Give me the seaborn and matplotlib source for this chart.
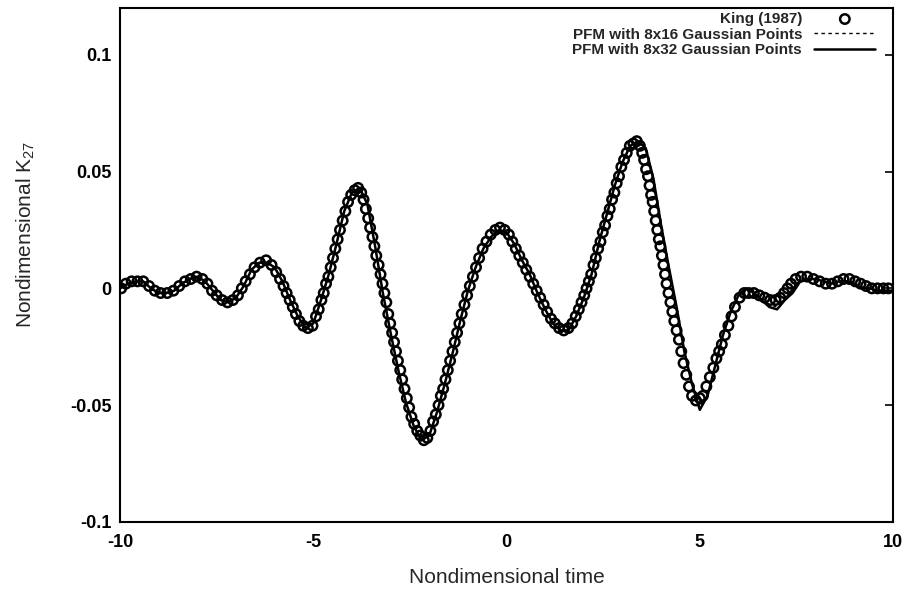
import numpy as np
import pandas as pd
import matplotlib
matplotlib.use("Agg")
import matplotlib.pyplot as plt
import seaborn as sns

# PFM solutions sampled every 0.2 time units
pfm_time = np.linspace(-10.0, 10.0, 101)
k27_8x32 = [
    0.000, 0.002, 0.003, 0.003, 0.000, -0.002, -0.002, -0.001, 0.002, 0.004,
    0.005, 0.003, -0.001, -0.005, -0.006, -0.004, 0.001, 0.008, 0.011, 0.011,
    0.009, 0.003, -0.005, -0.012, -0.017, -0.015, -0.005, 0.006, 0.019, 0.033,
    0.041, 0.043, 0.036, 0.018, -0.002, -0.019, -0.035, -0.049, -0.059, -0.065,
    -0.063, -0.053, -0.041, -0.028, -0.014, -0.001, 0.009, 0.017, 0.022, 0.025,
    0.024, 0.019, 0.012, 0.006, -0.002, -0.009, -0.015, -0.018, -0.018, -0.012,
    -0.004, 0.006, 0.020, 0.032, 0.044, 0.054, 0.061, 0.063, 0.060, 0.047,
    0.027, 0.009, -0.008, -0.027, -0.041, -0.052, -0.046, -0.033, -0.020, -0.010,
    -0.003, 0.000, -0.002, -0.005, -0.008, -0.009, -0.005, -0.002, 0.003, 0.004,
    0.004, 0.003, 0.002, 0.003, 0.003, 0.002, 0.000, 0.000, -0.001, -0.001,
    -0.001,
]
k27_8x16 = [
    0.000, 0.002, 0.003, 0.003, 0.000, -0.002, -0.002, -0.001, 0.002, 0.004,
    0.005, 0.003, -0.001, -0.005, -0.006, -0.004, 0.001, 0.008, 0.011, 0.011,
    0.009, 0.003, -0.005, -0.012, -0.017, -0.015, -0.005, 0.006, 0.019, 0.033,
    0.041, 0.043, 0.036, 0.018, -0.002, -0.019, -0.035, -0.049, -0.059, -0.065,
    -0.063, -0.053, -0.041, -0.028, -0.014, -0.001, 0.009, 0.017, 0.022, 0.025,
    0.024, 0.019, 0.012, 0.006, -0.002, -0.009, -0.015, -0.018, -0.018, -0.012,
    -0.004, 0.006, 0.020, 0.032, 0.044, 0.054, 0.061, 0.063, 0.060, 0.047,
    0.027, 0.009, -0.008, -0.027, -0.041, -0.051, -0.046, -0.033, -0.020, -0.010,
    -0.003, 0.000, -0.002, -0.004, -0.007, -0.008, -0.005, -0.001, 0.003, 0.004,
    0.004, 0.003, 0.002, 0.003, 0.003, 0.002, 0.000, 0.000, -0.001, -0.001,
    -0.001,
]

# King (1987) reference points
king_time = [
    -9.97, -9.85, -9.70, -9.55, -9.40, -9.25, -9.10, -8.95, -8.78, -8.62,
    -8.47, -8.32, -8.17, -8.02, -7.87, -7.74, -7.62, -7.50, -7.36, -7.22,
    -7.08, -6.95, -6.85, -6.75, -6.64, -6.52, -6.38, -6.22, -6.08, -5.96,
    -5.86, -5.77, -5.69, -5.61, -5.53, -5.45, -5.36, -5.26, -5.14, -5.02,
    -4.93, -4.86, -4.79, -4.73, -4.67, -4.61, -4.55, -4.49, -4.43, -4.37,
    -4.31, -4.24, -4.17, -4.10, -4.02, -3.93, -3.84, -3.76, -3.70, -3.64,
    -3.58, -3.53, -3.47, -3.42, -3.37, -3.31, -3.26, -3.21, -3.16, -3.11,
    -3.06, -3.01, -2.96, -2.91, -2.86, -2.81, -2.75, -2.70, -2.64, -2.58,
    -2.52, -2.46, -2.39, -2.31, -2.23, -2.14, -2.05, -1.97, -1.90, -1.83,
    -1.76, -1.70, -1.64, -1.58, -1.52, -1.46, -1.40, -1.34, -1.28, -1.22,
    -1.16, -1.09, -1.02, -0.95, -0.87, -0.79, -0.71, -0.62, -0.52, -0.41,
    -0.29, -0.17, -0.05, 0.06, 0.15, 0.24, 0.33, 0.42, 0.51, 0.60,
    0.69, 0.78, 0.87, 0.96, 1.05, 1.15, 1.25, 1.36, 1.48, 1.60,
    1.70, 1.79, 1.87, 1.94, 2.01, 2.07, 2.13, 2.19, 2.25, 2.31,
    2.37, 2.43, 2.49, 2.55, 2.61, 2.67, 2.73, 2.79, 2.85, 2.91,
    2.97, 3.04, 3.11, 3.19, 3.28, 3.37, 3.45, 3.51, 3.56, 3.61,
    3.66, 3.70, 3.74, 3.78, 3.82, 3.86, 3.90, 3.94, 3.98, 4.02,
    4.06, 4.10, 4.14, 4.19, 4.24, 4.29, 4.34, 4.40, 4.46, 4.52,
    4.58, 4.65, 4.72, 4.80, 4.90, 5.00, 5.08, 5.17, 5.26, 5.35,
    5.43, 5.50, 5.57, 5.65, 5.74, 5.82, 5.91, 6.03, 6.15, 6.27,
    6.40, 6.54, 6.68, 6.82, 6.96, 7.08, 7.18, 7.27, 7.36, 7.48,
    7.62, 7.78, 7.94, 8.10, 8.26, 8.42, 8.57, 8.72, 8.87, 9.02,
    9.16, 9.30, 9.45, 9.60, 9.75, 9.88,
]
king_k27 = [
    0.000, 0.002, 0.003, 0.003, 0.003, 0.001, -0.001, -0.002, -0.002, -0.001,
    0.001, 0.003, 0.004, 0.005, 0.004, 0.002, -0.001, -0.003, -0.005, -0.006,
    -0.005, -0.003, 0.000, 0.003, 0.006, 0.009, 0.011, 0.012, 0.010, 0.007,
    0.004, 0.001, -0.002, -0.005, -0.008, -0.011, -0.014, -0.016, -0.017, -0.016,
    -0.012, -0.009, -0.005, -0.002, 0.002, 0.005, 0.009, 0.013, 0.017, 0.021,
    0.025, 0.029, 0.033, 0.037, 0.040, 0.042, 0.043, 0.041, 0.038, 0.034,
    0.030, 0.026, 0.022, 0.018, 0.014, 0.010, 0.006, 0.002, -0.002, -0.006,
    -0.011, -0.015, -0.019, -0.023, -0.027, -0.031, -0.035, -0.039, -0.043, -0.047,
    -0.051, -0.055, -0.058, -0.061, -0.063, -0.065, -0.064, -0.061, -0.057, -0.054,
    -0.050, -0.046, -0.043, -0.039, -0.035, -0.031, -0.027, -0.023, -0.019, -0.015,
    -0.011, -0.007, -0.003, 0.001, 0.005, 0.009, 0.013, 0.017, 0.020, 0.023,
    0.025, 0.026, 0.025, 0.023, 0.020, 0.017, 0.014, 0.011, 0.008, 0.005,
    0.002, -0.001, -0.004, -0.007, -0.010, -0.013, -0.015, -0.017, -0.018, -0.017,
    -0.015, -0.012, -0.009, -0.006, -0.003, 0.000, 0.003, 0.006, 0.010, 0.013,
    0.017, 0.020, 0.024, 0.027, 0.031, 0.034, 0.038, 0.041, 0.045, 0.048,
    0.052, 0.055, 0.058, 0.061, 0.062, 0.063, 0.061, 0.058, 0.055, 0.051,
    0.048, 0.044, 0.040, 0.037, 0.033, 0.029, 0.025, 0.021, 0.018, 0.014,
    0.010, 0.006, 0.002, -0.002, -0.006, -0.010, -0.014, -0.018, -0.022, -0.027,
    -0.032, -0.037, -0.042, -0.046, -0.048, -0.047, -0.046, -0.042, -0.038, -0.034,
    -0.030, -0.027, -0.024, -0.020, -0.016, -0.012, -0.008, -0.004, -0.002, -0.002,
    -0.002, -0.003, -0.004, -0.005, -0.005, -0.004, -0.002, 0.000, 0.002, 0.004,
    0.005, 0.005, 0.004, 0.003, 0.002, 0.002, 0.003, 0.004, 0.004, 0.003,
    0.002, 0.001, 0.000, 0.000, 0.000, 0.000,
]

x_ticks = [-10, -5, 0, 5, 10]
y_ticks = [-0.1, -0.05, 0, 0.05, 0.1]
x_tick_labels = ["-10", "-5", "0", "5", "10"]
y_tick_labels = ["-0.1", "-0.05", "0", "0.05", "0.1"]

pfm = pd.DataFrame({"t": pfm_time, "k16": k27_8x16, "k32": k27_8x32})
king = pd.DataFrame({"t": king_time, "k": king_k27})

sns.set_style("white")
plt.rcParams["font.family"] = ["Liberation Sans", "DejaVu Sans"]
plt.rcParams["mathtext.fontset"] = "custom"
plt.rcParams["mathtext.rm"] = "Liberation Sans"
plt.rcParams["mathtext.it"] = "Liberation Sans"

fig = plt.figure(figsize=(9.06, 5.89), dpi=100)
ax = fig.add_axes([0.1325, 0.1138, 0.8532, 0.8726])

sns.scatterplot(data=king, x="t", y="k", ax=ax, marker="o", s=46,
                facecolor="none", edgecolor="black", linewidth=1.8,
                label="King (1987)", zorder=3)
sns.lineplot(data=pfm, x="t", y="k16", ax=ax, color="black", linewidth=1.0,
             linestyle=(0, (2.5, 2.5)), label="PFM with 8x16 Gaussian Points",
             zorder=2)
sns.lineplot(data=pfm, x="t", y="k32", ax=ax, color="black", linewidth=1.8,
             label="PFM with 8x32 Gaussian Points", zorder=2)

ax.set_xlim(-10, 10)
ax.set_ylim(-0.1, 0.12)
ax.set_xticks(x_ticks)
ax.set_xticklabels(x_tick_labels)
ax.set_yticks(y_ticks)
ax.set_yticklabels(y_tick_labels)
ax.tick_params(direction="in", length=6, width=1.2, top=False, right=True,
               labelsize=13, colors="black")
ax.tick_params(axis="x", pad=9)
ax.tick_params(axis="y", pad=6)
for lbl in ax.get_xticklabels() + ax.get_yticklabels():
    lbl.set_fontweight("bold")
for sp in ax.spines.values():
    sp.set_visible(True)
    sp.set_color("black")
    sp.set_linewidth(1.5)

ax.set_xlabel("Nondimensional time", fontsize=15, labelpad=12)
ax.set_ylabel(r"Nondimensional K$_{27}$", fontsize=15)
ax.yaxis.set_label_coords(-0.107, 0.56)

leg = ax.legend(loc="upper right", bbox_to_anchor=(0.991, 1.013),
                frameon=False, markerfirst=False, handlelength=4.0,
                labelspacing=0.1, borderaxespad=0.3, handletextpad=0.8,
                prop={"weight": "bold", "size": 11})

fig.savefig("out.png", dpi=100, facecolor="white")
